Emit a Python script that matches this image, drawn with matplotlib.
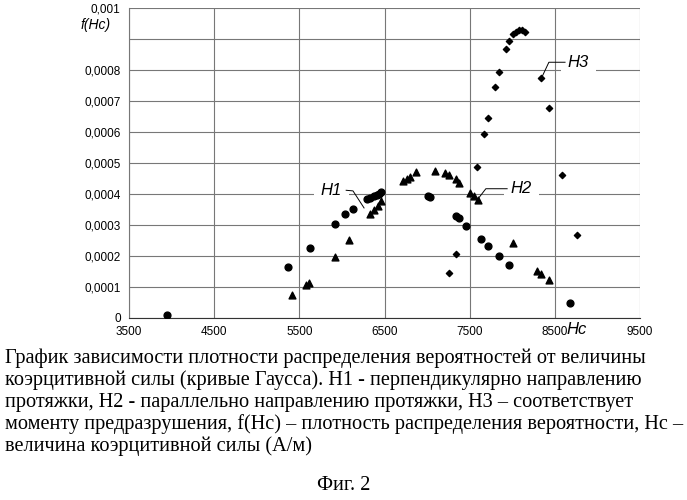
import matplotlib
matplotlib.use("Agg")
import matplotlib.pyplot as plt
from matplotlib.ticker import FuncFormatter

h1_x = [3951, 5371, 5623, 5916, 6042, 6126, 6293, 6335, 6372, 6409, 6435, 6461,
        7006, 7038, 7337, 7373, 7462, 7630, 7714, 7840, 7965, 8673]
h1_y = [0.000009, 0.000164, 0.000225, 0.000302, 0.000334, 0.000352, 0.000384, 0.000388,
        0.000392, 0.000397, 0.0004, 0.000405, 0.000394, 0.000389, 0.00033, 0.000321,
        0.000298, 0.000254, 0.000232, 0.0002, 0.00017, 0.00005]
h2_x = [5418, 5581, 5617, 5916, 6089, 6335, 6377, 6419, 6461, 6713, 6765, 6802, 6870,
        7090, 7211, 7258, 7337, 7378, 7504, 7551, 7593, 8007, 8296, 8338, 8427]
h2_y = [0.000075, 0.000106, 0.000114, 0.000196, 0.000251, 0.000336, 0.000347, 0.000361,
        0.000376, 0.000442, 0.000448, 0.000455, 0.00047, 0.000475, 0.000467, 0.00046,
        0.000447, 0.000437, 0.000404, 0.000394, 0.000381, 0.000241, 0.000153, 0.000141,
        0.000122]
h3_x = [7258, 7337, 7588, 7672, 7714, 7798, 7840, 7924, 7965, 8007, 8039, 8075, 8112,
        8149, 8338, 8427, 8589, 8757]
h3_y = [0.000145, 0.000207, 0.000486, 0.000592, 0.000645, 0.000746, 0.000792, 0.000867,
        0.000895, 0.000915, 0.000923, 0.000929, 0.000928, 0.000923, 0.000773, 0.000677,
        0.00046, 0.000267]
x_ticks = [3500, 4500, 5500, 6500, 7500, 8500, 9500]
y_ticks = [0, 0.0001, 0.0002, 0.0003, 0.0004, 0.0005, 0.0006, 0.0007, 0.0008, 0.0009, 0.001]

fig = plt.figure(figsize=(6.87, 5.0), dpi=100)
ax = fig.add_axes([129/687, 1-318/500, (640-129)/687, 310/500])
ax.set_xlim(3500, 9500)
ax.set_ylim(0, 0.001)
ax.set_xticks(x_ticks)
ax.set_yticks(y_ticks)
def yfmt(v, p):
    if abs(v - 0.0009) < 1e-9:
        return ""
    s = ("%.4f" % v).rstrip("0").rstrip(".")
    return s.replace(".", ",")
ax.yaxis.set_major_formatter(FuncFormatter(yfmt))
ax.tick_params(labelsize=8.5, length=0, pad=6)
for lbl in ax.get_xticklabels() + ax.get_yticklabels():
    lbl.set_fontfamily("Liberation Sans")
ax.grid(True, color="#777777", lw=0.8)
for s in ["top", "right"]:
    ax.spines[s].set_visible(False)
ax.spines["left"].set_color("#777777")
ax.spines["bottom"].set_color("#333333")
ax.set_axisbelow(True)

ax.scatter(h1_x, h1_y, marker="o", s=24, color="black", zorder=3)
ax.scatter(h2_x, h2_y, marker="^", s=24, color="black", zorder=3)
ax.scatter(h3_x, h3_y, marker="D", s=10, color="black", zorder=3)

tf = dict(fontsize=12, style="italic", fontfamily="Liberation Sans",
          bbox=dict(facecolor="white", edgecolor="none", pad=5), zorder=4)
ax.text(6000, 0.000412, "H1", ha="right", va="center", **tf)
ax.plot([6050, 6130, 6260], [0.000412, 0.000410, 0.000355], color="black", lw=0.7, zorder=4)
ax.text(7980, 0.000417, "H2", ha="left", va="center", **tf)
ax.plot([7940, 7690, 7600], [0.000417, 0.000417, 0.000385], color="black", lw=0.7, zorder=4)
ax.text(8650, 0.000825, "H3", ha="left", va="center", **tf)
ax.plot([8620, 8430, 8350], [0.000825, 0.000825, 0.000778], color="black", lw=0.7, zorder=4)
ax.text(-0.035, 0.945, "f(Hc)", transform=ax.transAxes, ha="right", va="center",
        fontsize=10, style="italic", fontfamily="Liberation Sans")
ax.text(8760, -0.000037, "Hc", ha="center", va="center", fontsize=12, style="italic",
        fontfamily="Liberation Sans")

cap = ["График зависимости плотности распределения вероятностей от величины",
       "коэрцитивной силы (кривые Гаусса). H1 - перпендикулярно направлению",
       "протяжки, H2 - параллельно направлению протяжки, H3 – соответствует",
       "моменту предразрушения, f(Hc) – плотность распределения вероятности, Hc –",
       "величина коэрцитивной силы (А/м)"]
for i, line in enumerate(cap):
    fig.text(5/687, 1-(358+22*i)/500, line, fontsize=14.6, fontfamily="Liberation Serif",
             ha="left", va="center")
fig.text(0.5, 1-485/500, "Фиг. 2", fontsize=14.6, fontfamily="Liberation Serif",
         ha="center", va="center")
fig.savefig("out.png", dpi=100)
